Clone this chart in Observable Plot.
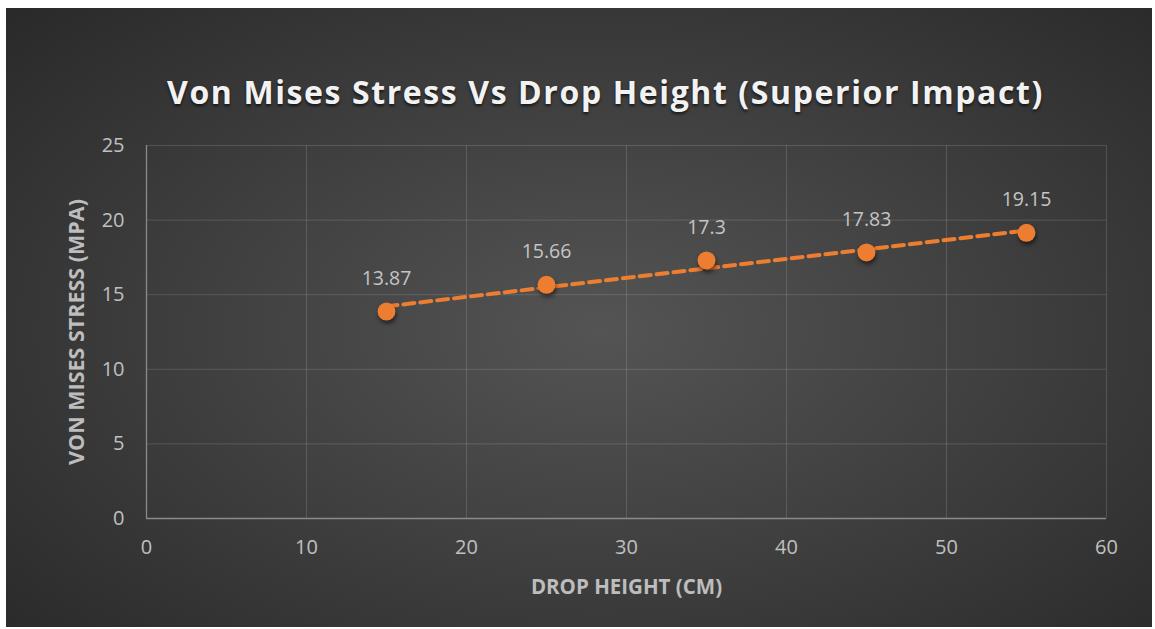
<!DOCTYPE html>
<html>
<head>
<meta charset="utf-8">
<script src="https://cdn.jsdelivr.net/npm/d3@7"></script>
<script src="https://cdn.jsdelivr.net/npm/@observablehq/plot@0.6"></script>
<style>
  html, body { margin: 0; padding: 0; background: #ffffff; }
  #wrap { position: relative; width: 1155px; height: 629px; overflow: hidden; background: #ffffff; }
  #panel { position: absolute; left: 6px; top: 8px; right: 3px; bottom: 2px;
    background: radial-gradient(ellipse 75% 80% at 52% 52%, #545454 0%, #404040 45%, #272727 100%); }
  #title { position: absolute; left: 28px; top: 0; width: 1155px; height: 120px; box-sizing: border-box;
    padding-top: 70px; text-align: center; font-family: "Open Sans", sans-serif; font-weight: 700;
    font-size: 32px; line-height: 44px; letter-spacing: 1.6px; color: #f2f2f2;
    text-shadow: 0 2px 3px rgba(0,0,0,0.65); white-space: nowrap; }
  #chart { position: absolute; left: 0; top: 120px; }
  #chart svg { background: transparent; overflow: visible; }
</style>
</head>
<body>
<div id="wrap">
  <div id="panel"></div>
  <div id="title">Von Mises Stress Vs Drop Height (Superior Impact)</div>
  <div id="chart"></div>
</div>
<script>
const dropHeights = [15, 25, 35, 45, 55];
const stressValues = [13.87, 15.66, 17.3, 17.83, 19.15];
const xTicks = [0, 10, 20, 30, 40, 50, 60];
const yTicks = [0, 5, 10, 15, 20, 25];
const xLabel = "DROP HEIGHT (CM)";
const yLabel = "VON MISES STRESS (MPA)";

const data = dropHeights.map((h, i) => ({height: h, stress: stressValues[i]}));
const orange = "#ED7D31";
const font = "'Open Sans', sans-serif";

const chart = Plot.plot({
  width: 1155,
  height: 509,
  marginLeft: 146,
  marginRight: 49,
  marginTop: 25,
  marginBottom: 111,
  style: {background: "transparent", fontFamily: font, color: "#bfbfbf"},
  x: {domain: [0, 60], ticks: xTicks},
  y: {domain: [0, 25], ticks: yTicks},
  marks: [
    Plot.gridX(xTicks.filter(d => d !== 0), {stroke: "#ffffff", strokeOpacity: 0.14, strokeWidth: 1}),
    Plot.gridY(yTicks.filter(d => d !== 0), {stroke: "#ffffff", strokeOpacity: 0.14, strokeWidth: 1}),
    Plot.ruleX([0], {stroke: "#8a8a8a", strokeWidth: 1.3}),
    Plot.ruleY([0], {stroke: "#8a8a8a", strokeWidth: 1.3}),
    Plot.axisX(xTicks, {tickSize: 0, tickPadding: 21, fontSize: 20, fill: "#c0c0c0", label: null}),
    Plot.axisY(yTicks, {tickSize: 0, tickPadding: 22, fontSize: 20, fill: "#c0c0c0", label: null}),
    Plot.text([xLabel], {frameAnchor: "bottom", textAnchor: "middle", lineAnchor: "middle", dy: 69, fontSize: 20.5, fontWeight: "bold", fill: "#bdbdbd"}),
    Plot.text([yLabel], {frameAnchor: "left", textAnchor: "middle", lineAnchor: "middle", dx: -69, rotate: -90, fontSize: 21.5, fontWeight: "bold", fill: "#bdbdbd"}),
    Plot.linearRegressionY(data, {x: "height", y: "stress", stroke: orange, strokeWidth: 4, strokeDasharray: "11,6", ci: 0}),
    Plot.dot(data, {x: "height", y: "stress", r: 9, fill: orange, stroke: "none"}),
    Plot.text(data, {x: "height", y: "stress", text: d => String(d.stress), dy: -33, fontSize: 19.5, fill: "#c4c4c4"})
  ]
});
document.getElementById("chart").appendChild(chart);
const dotG = chart.querySelector('g[aria-label="dot"]');
if (dotG) dotG.style.filter = "drop-shadow(1px 3px 2px rgba(0,0,0,0.55))";
</script>
</body>
</html>
